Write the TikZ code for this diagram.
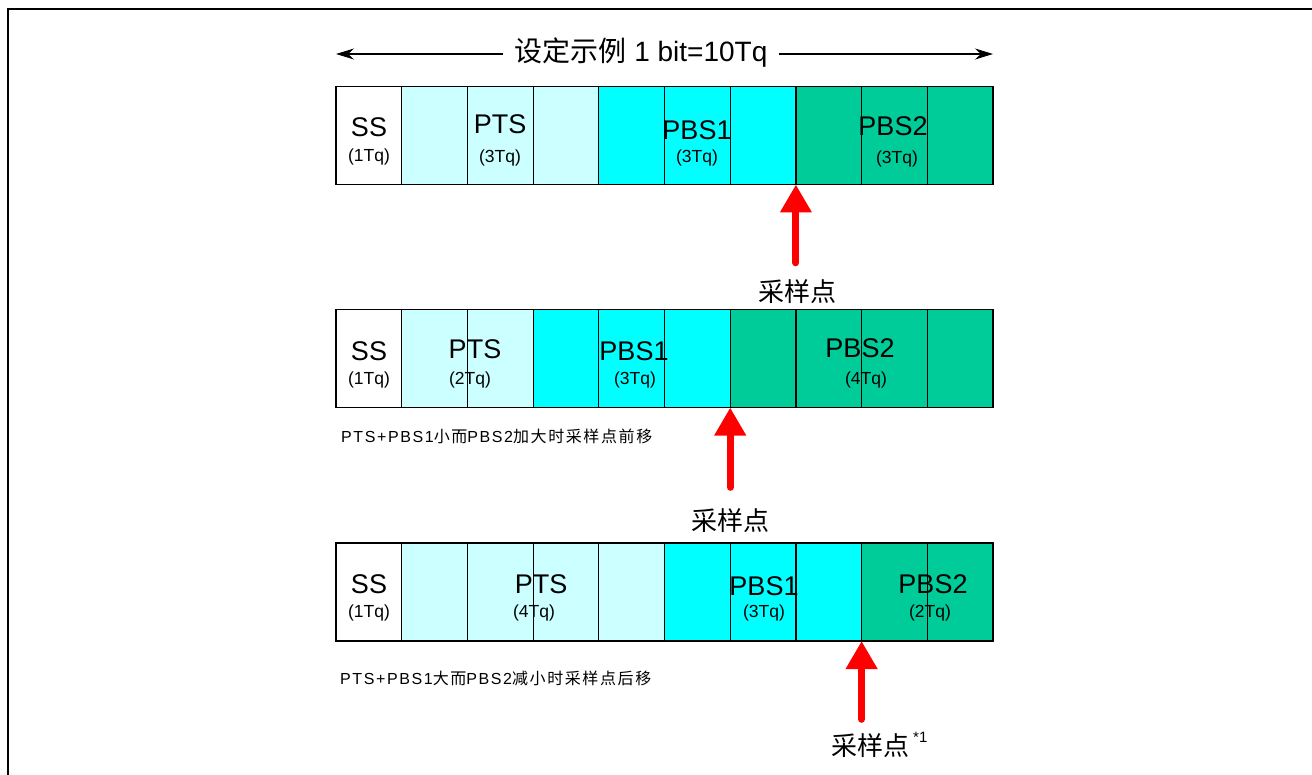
\documentclass[tikz,border=0pt]{standalone}
\usepackage{fontspec}
\setmainfont{Liberation Sans}
\newfontfamily\cjk{Noto Sans CJK SC}
\newfontfamily\notelat[LetterSpace=10]{Liberation Sans}
\newfontfamily\notecjk[LetterSpace=10]{Noto Sans CJK SC}
\usetikzlibrary{arrows.meta}

\definecolor{ptscol}{HTML}{CCFFFF}
\definecolor{pbsonecol}{HTML}{00FFFF}
\definecolor{pbstwocol}{HTML}{00CC99}

\tikzset{
  cell/.style={draw,line width=1.2pt,minimum width=65.7pt,minimum height=98pt,inner sep=0pt,outer sep=0pt},
  big/.style={font=\fontsize{27}{30}\selectfont,inner sep=0pt},
  small/.style={font=\fontsize{17.5}{19}\selectfont,inner sep=0pt},
  note/.style={font=\fontsize{16}{18}\selectfont\notelat,inner sep=0pt,anchor=west},
  sample/.style={font=\fontsize{26}{28}\selectfont,inner sep=0pt},
  samplearrow/.style={red,line width=7pt,line cap=round,-{Triangle[width=30pt,length=28pt]}}
}

\begin{document}
\begin{tikzpicture}[x=1pt,y=-1pt]
    \useasboundingbox (0,0) rectangle (1312,775);
    \draw[line width=2.5pt] (8,775) -- (8,9) -- (1312,9);

    % bit length
    \coordinate (lend) at (336,54);
    \coordinate (rend) at (993,54);
    \node (ttl) [font=\fontsize{28}{30}\selectfont,inner sep=11pt] at (641,53) {{\cjk 设定示例} 1 bit=10Tq};
    \draw[line width=1.2pt,-{Stealth[length=18pt,width=11pt]}] (ttl.west |- lend) -- (lend);
    \draw[line width=1.2pt,-{Stealth[length=18pt,width=11pt]}] (ttl.east |- rend) -- (rend);

    % first row
    \foreach \i/\c in {0/white,1/ptscol,2/ptscol,3/ptscol,4/pbsonecol,5/pbsonecol,6/pbsonecol,7/pbstwocol,8/pbstwocol,9/pbstwocol}
      \node[cell,fill=\c] (a\i) at ({336+65.7*(\i+0.5)},135.5) {};

    \node (ssa) [big] at (369,127) {SS};
    \node (ssat) [small] at (369,157) {(1Tq)};
    \node (ptsa) [big] at (500,124) {PTS};
    \node (ptsat) [small] at (500,158) {(3Tq)};
    \node (pbsonea) [big] at (697,130) {PBS1};
    \node (pbsoneat) [small] at (697,158) {(3Tq)};
    \node (pbstwoa) [big] at (893,126) {PBS2};
    \node (pbstwoat) [small] at (897,159) {(3Tq)};

    \node (sa) [sample] at (797,292) {\cjk 采样点};
    \draw[samplearrow,shorten <=17pt] (a6.south east |- sa.north) -- (a6.south east);

    % second row
    \foreach \i/\c in {0/white,1/ptscol,2/ptscol,3/pbsonecol,4/pbsonecol,5/pbsonecol,6/pbstwocol,7/pbstwocol,8/pbstwocol,9/pbstwocol}
      \node[cell,fill=\c] (b\i) at ({336+65.7*(\i+0.5)},358.5) {};

    \node (ssb) [big] at (369,351) {SS};
    \node (ssbt) [small] at (369,380) {(1Tq)};
    \node (ptsb) [big] at (475,349) {PTS};
    \node (ptsbt) [small] at (470,380) {(2Tq)};
    \node (pbsoneb) [big] at (634,351) {PBS1};
    \node (pbsonebt) [small] at (635,380) {(3Tq)};
    \node (pbstwob) [big] at (860,348) {PBS2};
    \node (pbstwobt) [small] at (866,380) {(4Tq)};

    \node (noteb) [note] at (341,436) {PTS+PBS1{\notecjk 小而}PBS2{\notecjk 加大时采样点前移}};

    \node (sb) [sample] at (730,521) {\cjk 采样点};
    \draw[samplearrow,shorten <=21.5pt] (b5.south east |- sb.north) -- (b5.south east);

    % third row
    \foreach \i/\c in {0/white,1/ptscol,2/ptscol,3/ptscol,4/ptscol,5/pbsonecol,6/pbsonecol,7/pbsonecol,8/pbstwocol,9/pbstwocol}
      \node[cell,fill=\c] (c\i) at ({336+65.7*(\i+0.5)},592) {};

    \node (ssc) [big] at (369,584) {SS};
    \node (ssct) [small] at (369,613) {(1Tq)};
    \node (ptsc) [big] at (541,584) {PTS};
    \node (ptsct) [small] at (534,613) {(4Tq)};
    \node (pbsonec) [big] at (764,586) {PBS1};
    \node (pbsonect) [small] at (764,613) {(3Tq)};
    \node (pbstwoc) [big] at (933,584) {PBS2};
    \node (pbstwoct) [small] at (930,613) {(2Tq)};

    \node (notec) [note] at (340,678) {PTS+PBS1{\notecjk 大而}PBS2{\notecjk 减小时采样点后移}};

    \node (sc) [sample] at (870,746) {\cjk 采样点};
    \node (scmark) [font=\fontsize{15}{16}\selectfont,inner sep=0pt,anchor=west] at (913,737) {*1};
    \draw[samplearrow,shorten <=14.5pt] (c7.south east |- sc.north) -- (c7.south east);

  \end{tikzpicture}
\end{document}
